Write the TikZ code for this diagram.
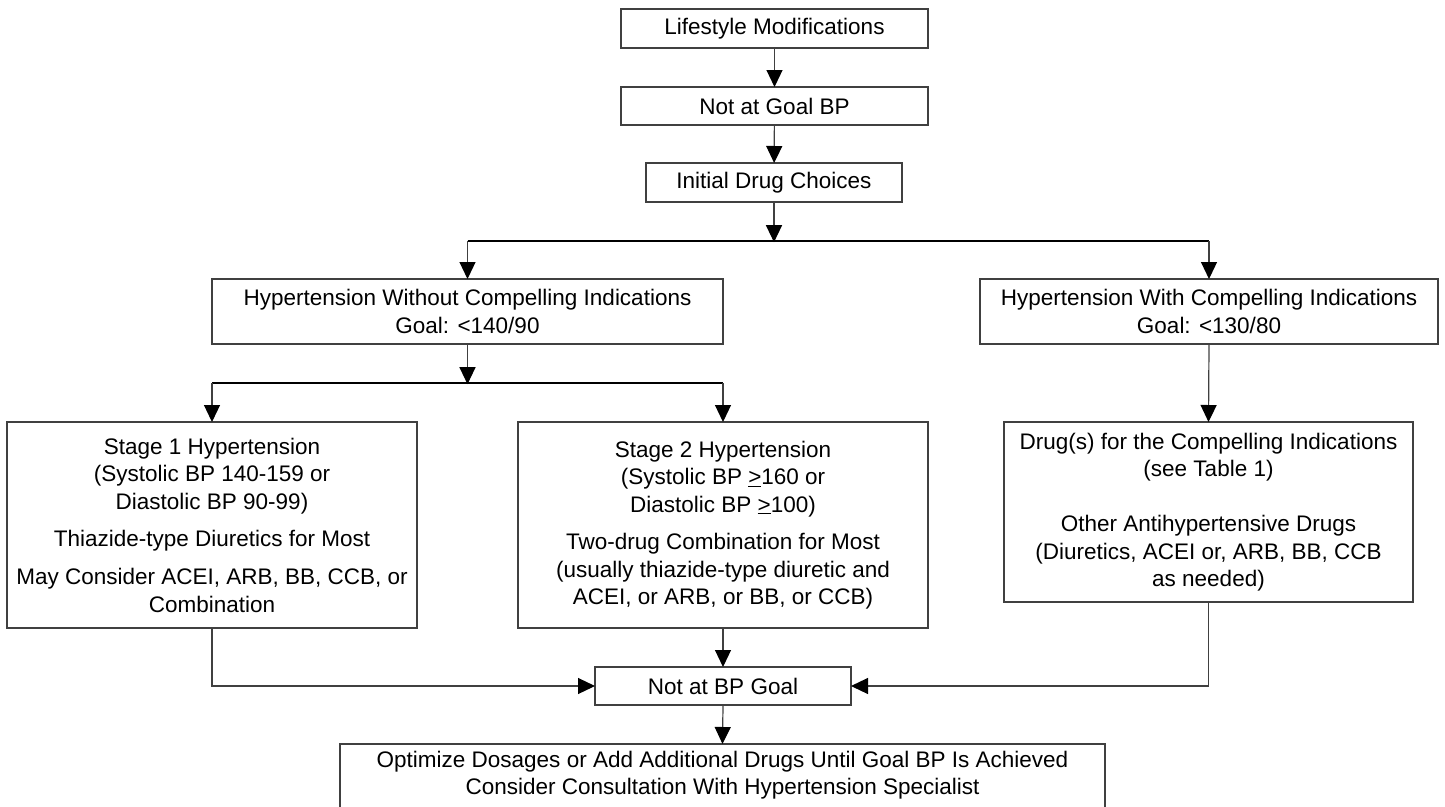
\documentclass[tikz,border=0pt]{standalone}
\usepackage{fontspec}
\setmainfont{Liberation Sans}
\usetikzlibrary{arrows.meta}
\begin{document}
\begin{tikzpicture}[x=1pt,y=-1pt,
  box/.style={draw=black!75, line width=1.2pt, align=center, inner sep=0pt, outer sep=0pt,
    font=\fontsize{22.5}{27.5}\selectfont},
  openbox/.style={box, draw=none},
  arr/.style={draw=black!75, line width=1.2pt, -{Triangle[length=17pt,width=16pt,color=black]}},
  bar/.style={draw=black, line width=2.6pt},
  conn/.style={draw=black!75, line width=1.2pt}]
\useasboundingbox (0,0) rectangle (1445,806);
\clip (0,0) rectangle (1445,806);

\node[box, minimum width=307pt, minimum height=39pt] (life) at (774.5,28.5) {Lifestyle Modifications};
\node[box, minimum width=307pt, minimum height=38pt] (ngb) at (774.5,106) {Not at Goal BP};
\node[box, minimum width=256pt, minimum height=39pt] (init) at (774,182.5) {Initial Drug Choices};
\node[box, minimum width=511pt, minimum height=65pt] (wo) at (467.5,311.5) {Hypertension Without Compelling Indications\\Goal: <140/90};
\node[box, minimum width=458pt, minimum height=65pt] (wi) at (1209,311.5) {Hypertension With Compelling Indications\\Goal: <130/80};
\node[box, minimum width=410pt, minimum height=206pt] (s1) at (212,525) {Stage 1 Hypertension\\(Systolic BP 140-159 or\\Diastolic BP 90-99)\\[9.5pt]Thiazide-type Diuretics for Most\\[11pt]May Consider ACEI, ARB, BB, CCB, or\\Combination};
\node[box, minimum width=410pt, minimum height=206pt] (s2) at (723,525) {Stage 2 Hypertension\\(Systolic BP \underline{>}160 or\\Diastolic BP \underline{>}100)\\[10pt]Two-drug Combination for Most\\(usually thiazide-type diuretic and\\ACEI, or ARB, or BB, or CCB)};
\node[box, minimum width=409pt, minimum height=180pt] (drug) at (1208.5,512) {Drug(s) for the Compelling Indications\\(see Table 1)\\[27.5pt]Other Antihypertensive Drugs\\(Diuretics, ACEI or, ARB, BB, CCB\\as needed)};
\node[box, minimum width=256pt, minimum height=38pt] (nbp) at (723,686) {Not at BP Goal};
\node[openbox, minimum width=765pt, inner ysep=7pt, anchor=north] (fin) at (722.5,744) {Optimize Dosages or Add Additional Drugs Until Goal BP Is Achieved\\Consider Consultation With Hypertension Specialist};
\draw[conn] ([yshift=-15pt]fin.south west) |- (fin.north east) -- ([yshift=-15pt]fin.south east);

\coordinate (b1) at (774,241);
\coordinate (b2) at (467.5,383);

\draw[arr] (life) -- (ngb);
\draw[arr] (ngb) -- (init);
\draw[arr] (init.south) -- ([yshift=-1.2pt]b1);
\draw[bar] (wo.north |- b1) -- (wi.north |- b1);
\draw[arr] (wo.north |- b1) -- (wo.north);
\draw[arr] (wi.north |- b1) -- (wi.north);

\draw[arr] (wo.south) -- ([yshift=-1.2pt]b2);
\draw[bar] (s1.north |- b2) -- (s2.north |- b2);
\draw[arr] (s1.north |- b2) -- (s1.north);
\draw[arr] (s2.north |- b2) -- (s2.north);

\draw[arr] (wi.south) -- (drug.north);
\draw[arr] (s1.south) |- (nbp.west);
\draw[arr] (s2.south) -- (nbp.north);
\draw[arr] (drug.south) |- (nbp.east);
\draw[arr] (nbp.south) -- (fin.north);
\end{tikzpicture}
\end{document}
